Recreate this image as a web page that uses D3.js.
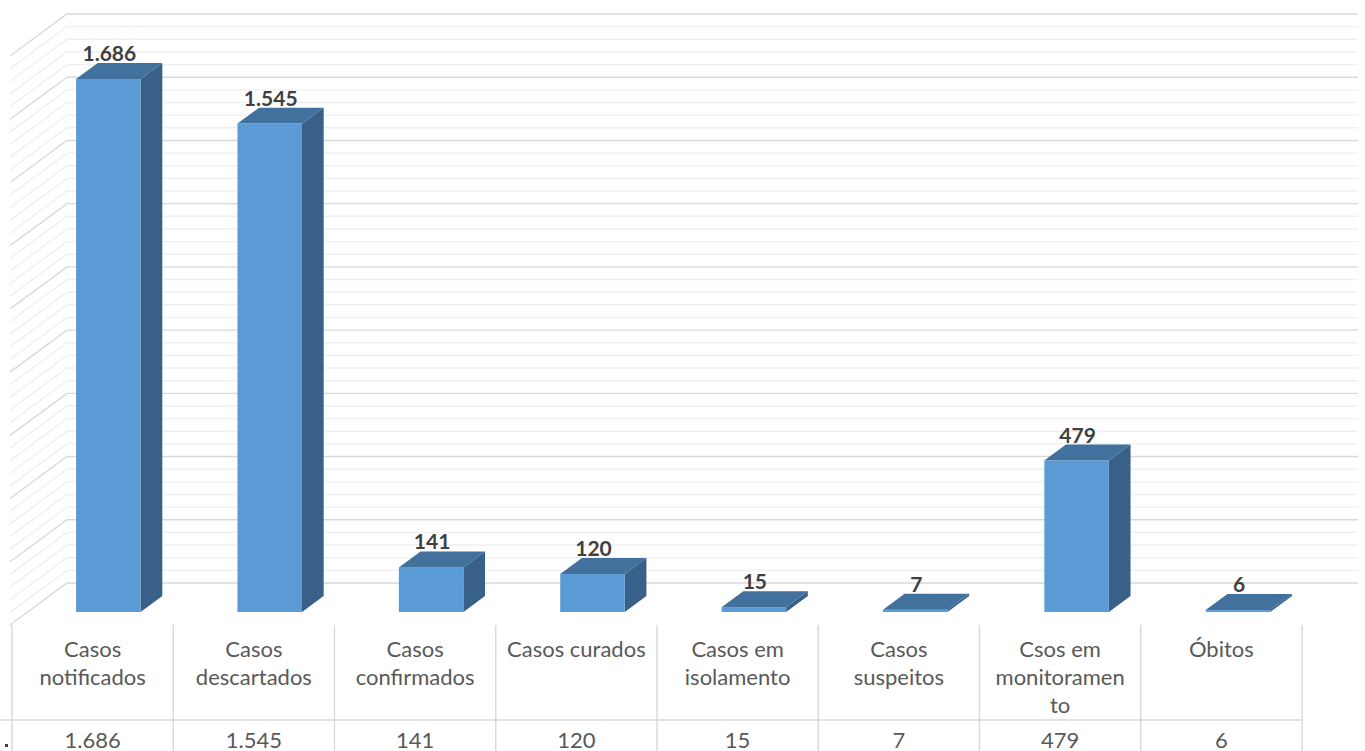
<!DOCTYPE html>
<html>
<head>
<meta charset="utf-8">
<script src="https://cdn.jsdelivr.net/npm/d3@7"></script>
<style>
  html, body { margin: 0; padding: 0; background: #ffffff; }
  svg { display: block; }
</style>
</head>
<body>
<svg id="chart" width="1365" height="751"></svg>
<script>
// ---- data ----
const categories = [
  "Casos\nnotificados",
  "Casos\ndescartados",
  "Casos\nconfirmados",
  "Casos curados",
  "Casos em\nisolamento",
  "Casos\nsuspeitos",
  "Csos em\nmonitoramen\nto",
  "Óbitos"
];
const values = [1686, 1545, 141, 120, 15, 7, 479, 6];
const axisMax = 1800;
const majorStep = 200;
const minorStep = 40;

// ---- layout ----
const svg = d3.select("#chart");
const W = 1365, H = 751;
const depth = { dx: 57, dy: -42 };          // floor depth vector (front -> back)
const backLeft = 67, backRight = 1358;
const backZeroY = 583, backTopY = 14;

const ptBR = d3.formatLocale({ decimal: ",", thousands: ".", grouping: [3], currency: ["R$", ""] });
const fmt = ptBR.format(",d");

const y = d3.scaleLinear().domain([0, axisMax]).range([backZeroY, backTopY]);
const x = d3.scaleBand().domain(categories).range([backLeft - depth.dx, backRight - depth.dx]).paddingInner(0).paddingOuter(0);
const xt = d3.scaleBand().domain(categories).range([12, 1302]);

// ---- walls / gridlines ----
const minorTicks = d3.range(0, axisMax + 0.001, minorStep).filter(v => v % majorStep !== 0);
const majorTicks = d3.range(0, axisMax + 0.001, majorStep);

const grid = svg.append("g");
function wallLines(ticks, color) {
  ticks.forEach(v => {
    const yy = y(v);
    grid.append("path")
      .attr("d", `M${backLeft - depth.dx},${yy - depth.dy}L${backLeft},${yy}L${backRight},${yy}`)
      .attr("fill", "none")
      .attr("stroke", color)
      .attr("stroke-width", 1.4);
  });
}
wallLines(minorTicks, "#efefef");
wallLines(majorTicks, "#d9d9d9");

// ---- bars ----
const tFront = 0.31, tBack = 0.69;
const barW = x.bandwidth() * 0.4;
const bdx = depth.dx * (tBack - tFront), bdy = depth.dy * (tBack - tFront);
const bars = svg.append("g");
const colFront = "#5b9bd5", colTop = "#41719c", colSide = "#386088";

values.forEach((v, i) => {
  const c = categories[i];
  const cx = x(c) + x.bandwidth() / 2 + depth.dx * tFront;
  const x0 = cx - barW / 2, x1 = cx + barW / 2;
  const yb = y(0) - depth.dy + depth.dy * tFront;
  const yt = y(v) - depth.dy + depth.dy * tFront;
  const g = bars.append("g");
  // side
  g.append("path")
    .attr("d", `M${x1},${yt}L${x1 + bdx},${yt + bdy}L${x1 + bdx},${yb + bdy}L${x1},${yb}Z`)
    .attr("fill", colSide);
  // front
  g.append("rect")
    .attr("x", x0).attr("y", yt)
    .attr("width", barW).attr("height", Math.max(0, yb - yt))
    .attr("fill", colFront);
  // top
  g.append("path")
    .attr("d", `M${x0},${yt}L${x1},${yt}L${x1 + bdx},${yt + bdy}L${x0 + bdx},${yt + bdy}Z`)
    .attr("fill", colTop);
  // label
  g.append("text")
    .attr("x", cx + 1)
    .attr("y", yt + bdy - 2)
    .attr("text-anchor", "middle")
    .attr("font-family", "Lato, 'Open Sans', sans-serif")
    .attr("font-weight", "bold")
    .attr("font-size", 21)
    .attr("fill", "#404040")
    .text(fmt(v));
});

// ---- data table ----
const table = svg.append("g");
const tableTop = 625, rowDiv = 720;
const lineColor = "#d9d9d9";
categories.forEach((c, i) => {
  table.append("line")
    .attr("x1", xt(c)).attr("x2", xt(c))
    .attr("y1", tableTop).attr("y2", H + 5)
    .attr("stroke", lineColor).attr("stroke-width", 1.4);
});
table.append("line")
  .attr("x1", xt.range()[1]).attr("x2", xt.range()[1])
  .attr("y1", tableTop).attr("y2", H + 5)
  .attr("stroke", lineColor).attr("stroke-width", 1.4);
table.append("line")
  .attr("x1", 0).attr("x2", xt.range()[1])
  .attr("y1", rowDiv).attr("y2", rowDiv)
  .attr("stroke", lineColor).attr("stroke-width", 1.4);

categories.forEach((c, i) => {
  const cx = xt(c) + xt.bandwidth() / 2;
  const t = table.append("text")
    .attr("text-anchor", "middle")
    .attr("font-family", "Lato, 'Open Sans', sans-serif")
    .attr("font-size", 22)
    .attr("fill", "#595959");
  c.split("\n").forEach((ln, k) => {
    t.append("tspan").attr("x", cx).attr("y", 657 + k * 28).text(ln);
  });
  table.append("text")
    .attr("x", cx).attr("y", 748)
    .attr("text-anchor", "middle")
    .attr("font-family", "Lato, 'Open Sans', sans-serif")
    .attr("font-size", 22)
    .attr("fill", "#595959")
    .text(fmt(values[i]));
});
// legend key (cut off at left edge)
table.append("rect").attr("x", 5).attr("y", 744).attr("width", 3).attr("height", 3).attr("fill", "#404040");
</script>
</body>
</html>
